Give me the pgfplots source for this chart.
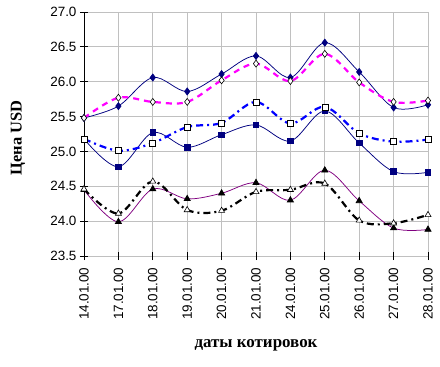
\documentclass[border=0pt]{standalone}
\usepackage{fontspec}
\setmainfont{Liberation Serif}
\newfontfamily\arialf{Liberation Sans}
\usepackage{pgfplots}
\pgfplotsset{compat=1.18}
\definecolor{navyc}{HTML}{000080}
\definecolor{magc}{HTML}{FF00FF}
\definecolor{bluec}{HTML}{0000FF}
\definecolor{purpc}{HTML}{800080}
\definecolor{gridc}{HTML}{C0C0C0}
\begin{document}
\begin{tikzpicture}[x=1bp,y=1bp]
\useasboundingbox (-84bp,-111bp) rectangle (356bp,256bp);
\begin{axis}[
  at={(0,0)}, anchor=south west,
  scale only axis, width=344bp, height=244bp,
  xmin=0, xmax=10, ymin=23.5, ymax=27.0,
  axis x line*=bottom, axis y line*=left,
  x axis line style={draw=none},
  y axis line style={black, line width=0.9bp, -},
  xtick={0,...,10},
  xticklabels={14.01.00,17.01.00,18.01.00,19.01.00,20.01.00,21.01.00,24.01.00,25.01.00,26.01.00,27.01.00,28.01.00},
  x tick label style={rotate=90, anchor=east, font=\fontsize{13.5}{15}\arialf},
  xticklabel shift=4bp,
  ytick={23.5,24,24.5,25,25.5,26,26.5,27},
  y tick label style={font=\fontsize{13.5}{15}\arialf, /pgf/number format/.cd, fixed, fixed zerofill, precision=1, assume math mode=true},
  tick align=center, major tick length=8bp,
  tick style={black, line width=0.8bp},
  grid=major, major grid style={gridc, line width=0.9bp},
  ylabel={\bfseries Цена USD}, ylabel style={font=\fontsize{16.5}{18}\selectfont, at={(axis description cs:0,0.5)}, anchor=center, yshift=66bp, xshift=-4bp},
  xlabel={\bfseries даты котировок}, xlabel style={font=\fontsize{17}{19}\selectfont, yshift=-13bp},
  clip=false,
  every axis plot/.append style={smooth, tension=0.55},
]
% filled diamond, navy
\addplot[navyc, line width=0.75bp, mark=diamond*, mark size=3.5bp, mark options={fill=navyc, draw=navyc, solid}] coordinates {
(0,25.48)(1,25.65)(2,26.06)(3,25.86)(4,26.11)(5,26.37)(6,26.06)(7,26.56)(8,26.14)(9,25.63)(10,25.67)};
% filled square, navy
\addplot[navyc, line width=0.75bp, mark=square*, mark size=2.8bp, mark options={fill=navyc, draw=navyc, solid}] coordinates {
(0,25.18)(1,24.78)(2,25.27)(3,25.06)(4,25.24)(5,25.38)(6,25.15)(7,25.58)(8,25.12)(9,24.71)(10,24.70)};
% filled triangle, purple line
\addplot[purpc, line width=0.75bp, mark=triangle*, mark size=3.5bp, mark options={fill=black, draw=black, solid}] coordinates {
(0,24.45)(1,23.99)(2,24.46)(3,24.32)(4,24.40)(5,24.55)(6,24.30)(7,24.73)(8,24.29)(9,23.90)(10,23.88)};
% open diamond, magenta dashed
\addplot[magc, line width=2.2bp, dash pattern=on 6bp off 5bp, mark=diamond*, mark size=3.5bp, mark options={fill=white, draw=black, line width=0.6bp, solid}] coordinates {
(0,25.48)(1,25.77)(2,25.71)(3,25.71)(4,26.02)(5,26.26)(6,26.01)(7,26.40)(8,25.99)(9,25.71)(10,25.73)};
% open square, blue dash-dot
\addplot[bluec, line width=2.2bp, dash pattern=on 7bp off 4bp on 2bp off 4bp, mark=square*, mark size=3bp, mark options={fill=white, draw=black, line width=0.6bp, solid}] coordinates {
(0,25.18)(1,25.01)(2,25.12)(3,25.35)(4,25.41)(5,25.71)(6,25.40)(7,25.64)(8,25.26)(9,25.14)(10,25.17)};
% open triangle, black dash-dot
\addplot[black, line width=2.2bp, dash pattern=on 7bp off 4bp on 2bp off 4bp, mark=triangle*, mark size=3.5bp, mark options={fill=white, draw=black, line width=0.6bp, solid}] coordinates {
(0,24.46)(1,24.11)(2,24.57)(3,24.16)(4,24.15)(5,24.42)(6,24.45)(7,24.54)(8,24.01)(9,23.97)(10,24.09)};
\end{axis}
\end{tikzpicture}
\end{document}
